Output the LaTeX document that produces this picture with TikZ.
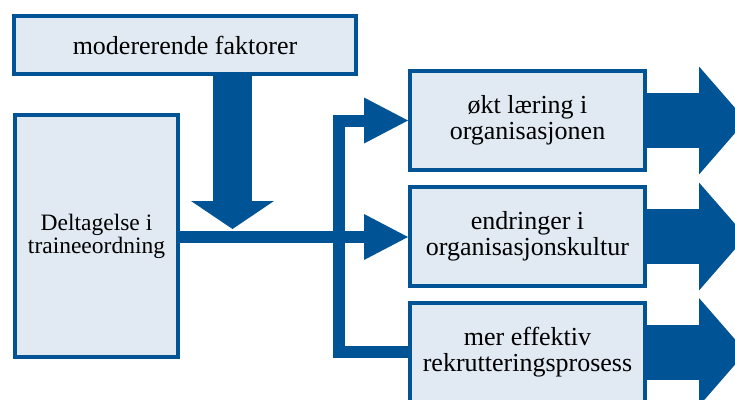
\documentclass[tikz,border=0pt]{standalone}
\usepackage{fontspec}
\setmainfont{Liberation Serif}
\usetikzlibrary{arrows.meta}
\definecolor{boxblue}{RGB}{0,84,150}
\definecolor{boxfill}{RGB}{225,233,242}

\begin{document}
\begin{tikzpicture}[x=1pt, y=-1pt,
  box/.style={draw=boxblue, fill=boxfill, line width=4pt, inner sep=0pt,
    align=center, font=\fontsize{26}{26}\selectfont},
  flow/.style={draw=boxblue, line width=12pt, line join=miter,
    -{Triangle[length=44pt, width=46pt, line width=0pt]}},
  drop/.style={draw=boxblue, line width=39pt,
    -{Triangle[length=28pt, width=83pt, line width=0pt]}},
  outflow/.style={draw=boxblue, line width=55pt,
    -{Triangle[length=47pt, width=108pt, line width=0pt]}}]

  \clip (0,0) rectangle (735,399);

  % Moderating factors (top)
  \node[box, minimum width=342pt, minimum height=58pt] (mod) at (185,45)
    {modererende faktorer};

  % Participation (left)
  \node[box, minimum width=163pt, minimum height=242pt,
    font=\fontsize{23.5}{23}\selectfont] (trainee) at (96.5,236)
    {Deltagelse i\\traineeordning};

  % Outcomes (right)
  \node[box, minimum width=235pt, minimum height=99pt] (okt) at (527.5,120.5)
    {økt læring i\\organisasjonen};
  \node[box, minimum width=235pt, minimum height=99pt] (endr) at (527.5,236.5)
    {endringer i\\organisasjonskultur};
  \node[box, minimum width=235pt, minimum height=99pt] (mer) at (527.5,352)
    {mer effektiv\\rekrutteringsprosess};

  \coordinate (join) at (232.5,229);
  \coordinate (spine) at (339,237);

  % Moderating arrow down onto the main line
  \draw[drop] (mod.south -| join) -- (join);

  % Main line and branches
  \draw[flow] (trainee.east |- spine) -- (endr.west |- spine);
  \draw[flow, {Triangle[length=44pt, width=46pt, line width=0pt]}-]
    (okt.west) -- (spine |- okt.west) -- (spine |- mer.west) -- (mer.west);

  % Big arrows out of the outcomes
  \foreach \b in {okt,endr,mer}
    \draw[outflow] (\b.east) -- ++(99,0);

\end{tikzpicture}
\end{document}
